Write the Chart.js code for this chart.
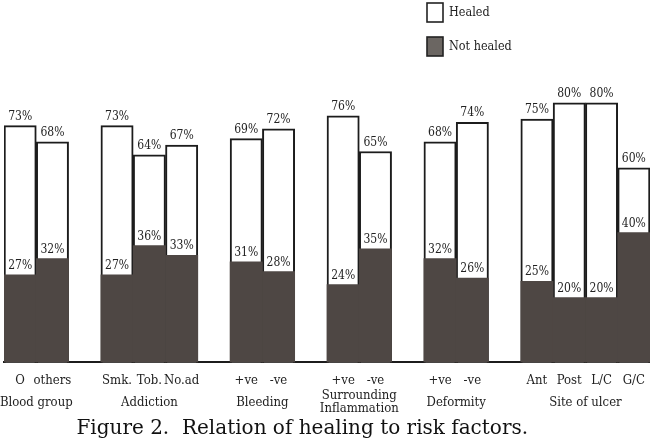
<!DOCTYPE html>
<html>
<head>
<meta charset="utf-8">
<script src="https://cdn.jsdelivr.net/npm/chart.js@4.4.1/dist/chart.umd.min.js"></script>
<style>
  html, body { margin: 0; padding: 0; background: #fff; }
  #wrap { width: 650px; height: 442px; position: relative; }
</style>
</head>
<body>
<div id="wrap"><canvas id="healing_chart"></canvas></div>
<script>
// risk factor groups and the bars inside each one
var groups = ["Blood group", "Addiction", "Bleeding", ["Surrounding", "Inflammation"], "Deformity", "Site of ulcer"];
var subLabels = [["O", "others"], ["Smk.", "Tob.", "No.ad"], ["+ve", "-ve"], ["+ve", "-ve"], ["+ve", "-ve"], ["Ant", "Post", "L/C", "G/C"]];
var healed = [[73, 68], [73, 64, 67], [69, 72], [76, 65], [68, 74], [75, 80, 80, 60]];
var notHealed = [[27, 32], [27, 36, 33], [31, 28], [24, 35], [32, 26], [25, 20, 20, 40]];
var titleText = "Figure 2.  Relation of healing to risk factors.";

var TYPE = "'DejaVu Serif Condensed', 'Liberation Mono', monospace";
var DARK = "#4e4744";

// flatten into category slots, with an empty slot between groups
var labels = [], healedData = [], notHealedData = [], groupSlots = [];
groups.forEach(function(g, i) {
  if (i > 0) { labels.push(""); healedData.push(null); notHealedData.push(null); }
  var first = labels.length;
  subLabels[i].forEach(function(s, j) {
    labels.push(s);
    healedData.push(healed[i][j]);
    notHealedData.push(notHealed[i][j]);
  });
  groupSlots.push([first, labels.length - 1]);
});

var percentLabels = {
  id: "percentLabels",
  afterDatasetsDraw: function(chart) {
    var ctx = chart.ctx;
    ctx.save();
    ctx.font = "12px " + TYPE;
    ctx.fillStyle = "#222";
    ctx.textAlign = "center";
    ctx.textBaseline = "bottom";
    chart.data.datasets.forEach(function(ds, i) {
      chart.getDatasetMeta(i).data.forEach(function(bar, j) {
        if (ds.data[j] == null) return;
        ctx.fillText(ds.data[j] + "%", bar.x, bar.y - 3);
      });
    });
    ctx.restore();
  }
};

// group names under the sub labels, plus the figure caption
var groupLabels = {
  id: "groupLabels",
  afterDraw: function(chart) {
    var ctx = chart.ctx, xs = chart.scales.x, bottom = chart.chartArea.bottom;
    ctx.save();
    ctx.font = "13px " + TYPE;
    ctx.fillStyle = "#222";
    ctx.textAlign = "center";
    ctx.textBaseline = "middle";
    groups.forEach(function(g, i) {
      var cx = (xs.getPixelForValue(groupSlots[i][0]) + xs.getPixelForValue(groupSlots[i][1])) / 2;
      var lines = [].concat(g);
      lines.forEach(function(line, k) {
        ctx.fillText(line, cx, bottom + 40 + (k - (lines.length - 1) / 2) * 13);
      });
    });
    ctx.font = "20px 'DejaVu Serif', 'Liberation Serif', serif";
    ctx.fillStyle = "#111";
    ctx.textBaseline = "alphabetic";
    ctx.fillText(titleText, chart.width * 0.465, chart.height - 8);
    ctx.restore();
  }
};

var boxLegend = {
  id: "boxLegend",
  afterDraw: function(chart) {
    var ctx = chart.ctx;
    ctx.save();
    ctx.font = "12.5px " + TYPE;
    ctx.textBaseline = "middle";
    chart.data.datasets.slice().reverse().forEach(function(ds, i) {
      var y = 3 + i * 34;
      ctx.fillStyle = ds.legendFill;
      ctx.fillRect(427, y, 16, 19);
      ctx.strokeStyle = "#222";
      ctx.lineWidth = 1.6;
      ctx.strokeRect(427, y, 16, 19);
      ctx.fillStyle = "#222";
      ctx.fillText(ds.label, 449, y + 10);
    });
    ctx.restore();
  }
};

new Chart("healing_chart", {
  type: "bar",
  data: {
    labels: labels,
    datasets: [{
      label: "Not healed",
      data: notHealedData,
      backgroundColor: DARK,
      legendFill: "#6b6662",
      borderWidth: 0,
      order: 0
    }, {
      label: "Healed",
      data: healedData,
      backgroundColor: "#fff",
      legendFill: "#fff",
      borderColor: "#1c1c1c",
      borderWidth: 2,
      borderSkipped: "bottom",
      order: 1
    }]
  },
  options: {
    responsive: true,
    maintainAspectRatio: false,
    animation: false,
    layout: { padding: { top: 38, left: 4, right: 0, bottom: 44 } },
    datasets: { bar: { categoryPercentage: 1, barPercentage: 1 } },
    scales: {
      x: {
        stacked: true,
        grid: { display: false, drawTicks: false },
        border: { display: true, color: "#1c1c1c", width: 2 },
        ticks: { font: { family: TYPE, size: 13 }, color: "#222", padding: 10, autoSkip: false, maxRotation: 0 },
        afterFit: function(scale) { scale.paddingLeft = 0; scale.paddingRight = 0; }
      },
      y: { display: false, min: 0, max: 100, stacked: false }
    },
    plugins: {
      legend: { display: false },
      tooltip: { enabled: false }
    }
  },
  plugins: [percentLabels, groupLabels, boxLegend]
});
</script>
</body>
</html>
